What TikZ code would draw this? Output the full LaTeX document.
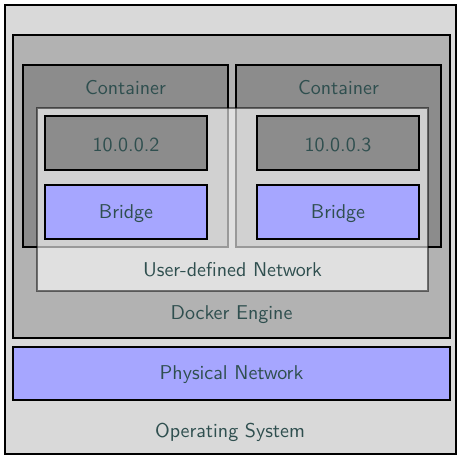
\documentclass[tikz,border=0pt]{standalone}
\usetikzlibrary{fit}
\definecolor{txt}{HTML}{2F4F4F}
\definecolor{bridgeblue}{RGB}{166,166,255}
\begin{document}
\begin{tikzpicture}[x=0.5pt,y=-0.5pt,
  box/.style={draw=black, line width=1pt, inner sep=0pt, rectangle},
  lbl/.style={text=txt, font=\sffamily, inner sep=0pt},
  clbl/.style={lbl, yshift=-0.75pt},
  blbl/.style={lbl, anchor=base},
  osbox/.style={box, fill=black!15},
  engbox/.style={box, fill=black!30},
  contbox/.style={box, fill=black!45},
  ipbox/.style={box, fill=black!45},
  brbox/.style={box, fill=bridgeblue},
  netbox/.style={draw=black, draw opacity=0.5, line width=1pt, fill=white, fill opacity=0.6, inner sep=0pt, rectangle}]
\useasboundingbox[fill=white] (0,0) rectangle (458,455);
\node[osbox, fit={(4.5,5) (455.5,454)}] (os) {};
\node[blbl] (oslbl) at (230,437.5) {Operating System};
\node[engbox, fit={(13,35) (450,338)}] (eng) {};
\node[blbl] (englbl) at (231.5,319.5) {Docker Engine};
\node[brbox, fit={(13,347) (450,400)}] (phys) {};
\node[clbl] at (phys.center) {Physical Network};
\node[contbox, fit={(23,65) (228,247)}] (c1) {};
\node[blbl] (c1lbl) at (125.5,94.5) {Container};
\node[contbox, fit={(236,65) (441,247)}] (c2) {};
\node[blbl] (c2lbl) at (338.5,94.5) {Container};
\node[netbox, fit={(37,108) (428,291)}] (udn) {};
\node[blbl] (udnlbl) at (232.5,276.7) {User-defined Network};
\node[ipbox, fit={(45,116) (207,170)}] (ip1) {};
\node[clbl] at (ip1.center) {10.0.0.2};
\node[ipbox, fit={(257,116) (419,170)}] (ip2) {};
\node[clbl] at (ip2.center) {10.0.0.3};
\node[brbox, fit={(45,185) (207,239)}] (br1) {};
\node[clbl] at (br1.center) {Bridge};
\node[brbox, fit={(257,185) (419,239)}] (br2) {};
\node[clbl] at (br2.center) {Bridge};
\end{tikzpicture}
\end{document}
